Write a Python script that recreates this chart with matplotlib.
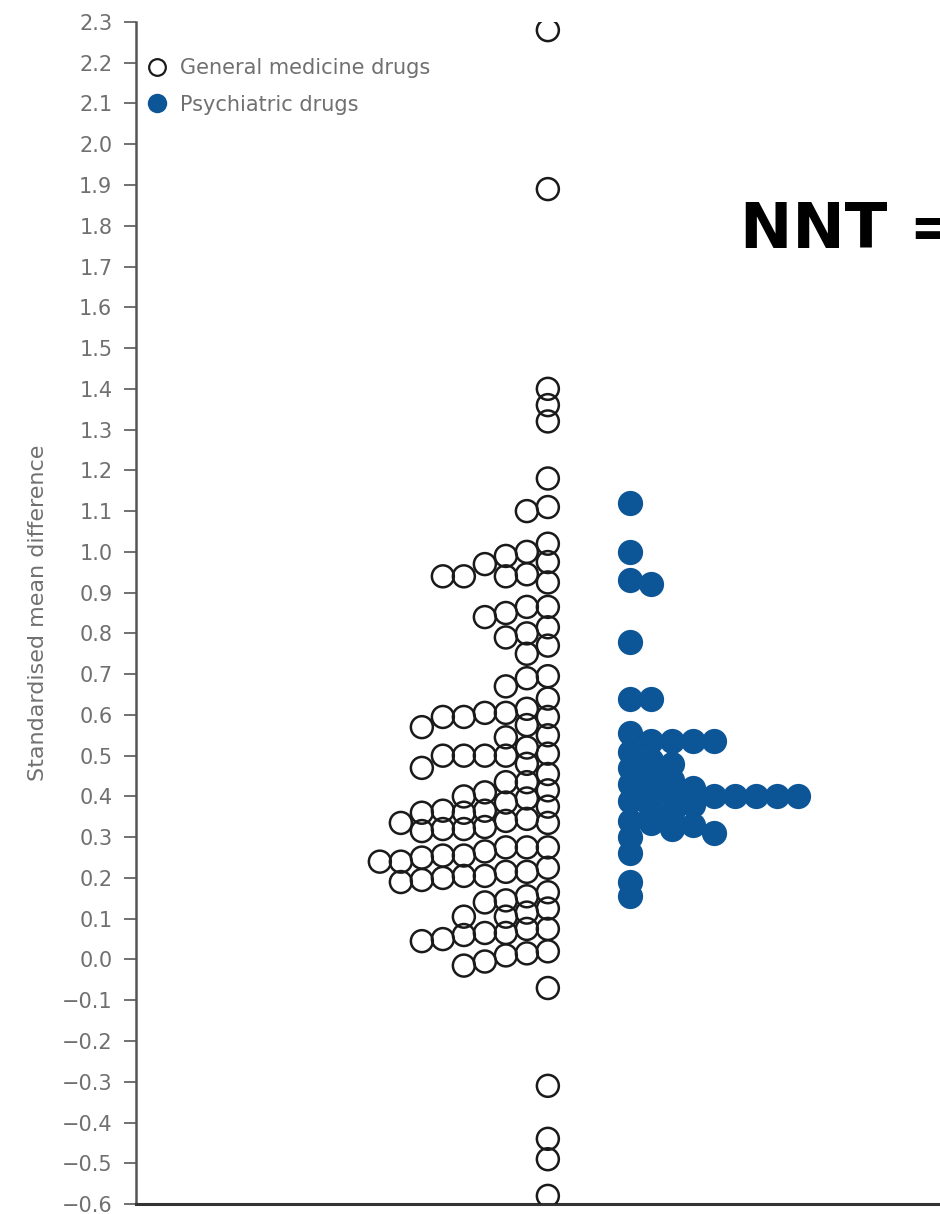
import numpy as np
import matplotlib.pyplot as plt
from matplotlib.lines import Line2D

# ----------------------------------
# Data (standardised mean differences)
# ----------------------------------

general_medicine = [
    2.28, 1.89, 1.40, 1.36, 1.32, 1.18, 1.11, 1.10, 1.02, 1.00,
    0.99, 0.975, 0.97, 0.945, 0.94, 0.94, 0.94, 0.925, 0.865, 0.865,
    0.85, 0.84, 0.815, 0.80, 0.79, 0.77, 0.75,
    0.695, 0.69, 0.67, 0.64, 0.615, 0.605, 0.605, 0.595, 0.595, 0.595,
    0.575, 0.57, 0.55, 0.545, 0.52, 0.505, 0.50, 0.50, 0.50, 0.50,
    0.48, 0.47, 0.455, 0.435, 0.435, 0.415, 0.41, 0.40, 0.395, 0.385,
    0.375, 0.365, 0.365, 0.36, 0.36, 0.345, 0.34, 0.335, 0.335, 0.325,
    0.32, 0.32, 0.315,
    0.275, 0.275, 0.275, 0.265, 0.255, 0.255, 0.25, 0.24, 0.24, 0.225,
    0.215, 0.215, 0.205, 0.205, 0.20, 0.195, 0.19, 0.165, 0.155, 0.145,
    0.14, 0.125, 0.115, 0.105, 0.105, 0.075, 0.075, 0.065, 0.065, 0.06,
    0.05, 0.045, 0.02, 0.015, 0.01, -0.005, -0.015, -0.07,
    -0.31, -0.44, -0.49, -0.58,
]

psychiatric = [
    1.12, 1.00, 0.93, 0.92, 0.78, 0.64, 0.64, 0.555, 0.535, 0.535,
    0.535, 0.535, 0.51, 0.49, 0.48, 0.47, 0.45, 0.44, 0.43, 0.42,
    0.41, 0.40, 0.40, 0.40, 0.40, 0.40, 0.40, 0.39, 0.38, 0.37,
    0.36, 0.34, 0.335, 0.33, 0.32, 0.31, 0.30, 0.26, 0.19, 0.155,
]

y_ticks = np.round(np.arange(-0.6, 2.31, 0.1), 1) + 0.0

blue = "#0c5597"
grey_text = "#707070"

# ----------------------------------
# Figure
# ----------------------------------

fig = plt.figure(figsize=(9.4, 12.14), dpi=100)
ax = fig.add_axes([0.1447, 0.0082, 0.8553, 0.9737])

ax.set_ylim(-0.6, 2.3)
ax.set_xlim(-5.02, 4.78)


def swarm(values, base, direction, step_px=21, min_px=14):
    # one-sided swarm on a column grid, computed in pixel space
    pts = ax.transData.transform(
        np.column_stack([np.full(len(values), base), values])
    )
    ys = pts[:, 1]
    x0 = pts[0, 0]
    placed = []
    xs = np.zeros(len(values))
    for i in np.argsort(values)[::-1]:
        k = 0
        while True:
            xp = x0 + direction * k * step_px
            ok = all(
                (xp - px) ** 2 + (ys[i] - py) ** 2 >= min_px ** 2
                for px, py in placed
            )
            if ok:
                break
            k += 1
        placed.append((xp, ys[i]))
        xs[i] = xp
    inv = ax.transData.inverted()
    return inv.transform(np.column_stack([xs, ys]))[:, 0]


gx = swarm(general_medicine, 0.0, -1, min_px=16)
px = swarm(psychiatric, 1.0, 1, min_px=14)

ax.scatter(
    gx, general_medicine,
    s=250,
    facecolors="none",
    edgecolors="#1a1a1a",
    linewidths=1.8,
    zorder=3
)

ax.scatter(
    px, psychiatric,
    s=330,
    color=blue,
    linewidths=0,
    zorder=3
)

# ----------------------------------
# Axes styling
# ----------------------------------

ax.spines["top"].set_visible(False)
ax.spines["right"].set_visible(False)
ax.spines["left"].set_color("#555555")
ax.spines["left"].set_linewidth(1.8)
ax.spines["bottom"].set_color("#333333")
ax.spines["bottom"].set_linewidth(2.2)

ax.set_xticks([])
ax.set_yticks(y_ticks)
ax.set_yticklabels(
    [f"{abs(t):.1f}" if abs(t) < 1e-9 else f"{t:.1f}".replace("-", "\u2212")
     for t in y_ticks]
)
ax.tick_params(
    axis="y",
    length=9,
    width=1.3,
    color="#666666",
    labelcolor=grey_text,
    labelsize=15,
    pad=8
)

ax.set_ylabel(
    "Standardised mean difference",
    fontsize=16,
    color=grey_text,
    labelpad=10
)

handles = [
    Line2D([], [], marker="o", linestyle="none", markersize=12,
           markerfacecolor="none", markeredgecolor="#1a1a1a",
           markeredgewidth=1.6),
    Line2D([], [], marker="o", linestyle="none", markersize=14,
           markerfacecolor=blue, markeredgewidth=0),
]

ax.legend(
    handles,
    ["General medicine drugs", "Psychiatric drugs"],
    loc="upper left",
    bbox_to_anchor=(0.0137, 0.9695),
    frameon=False,
    fontsize=15,
    labelcolor=grey_text,
    handlelength=1.0,
    handletextpad=0.6,
    labelspacing=0.8,
    borderpad=0,
    borderaxespad=0
)

# heading runs off the right edge, as in the original
fig.text(
    740 / 940, 1 - 248 / 1214,
    "NNT =",
    fontsize=45,
    fontweight="bold",
    color="black",
    ha="left",
    va="baseline"
)

fig.savefig("out.png", dpi=100)
